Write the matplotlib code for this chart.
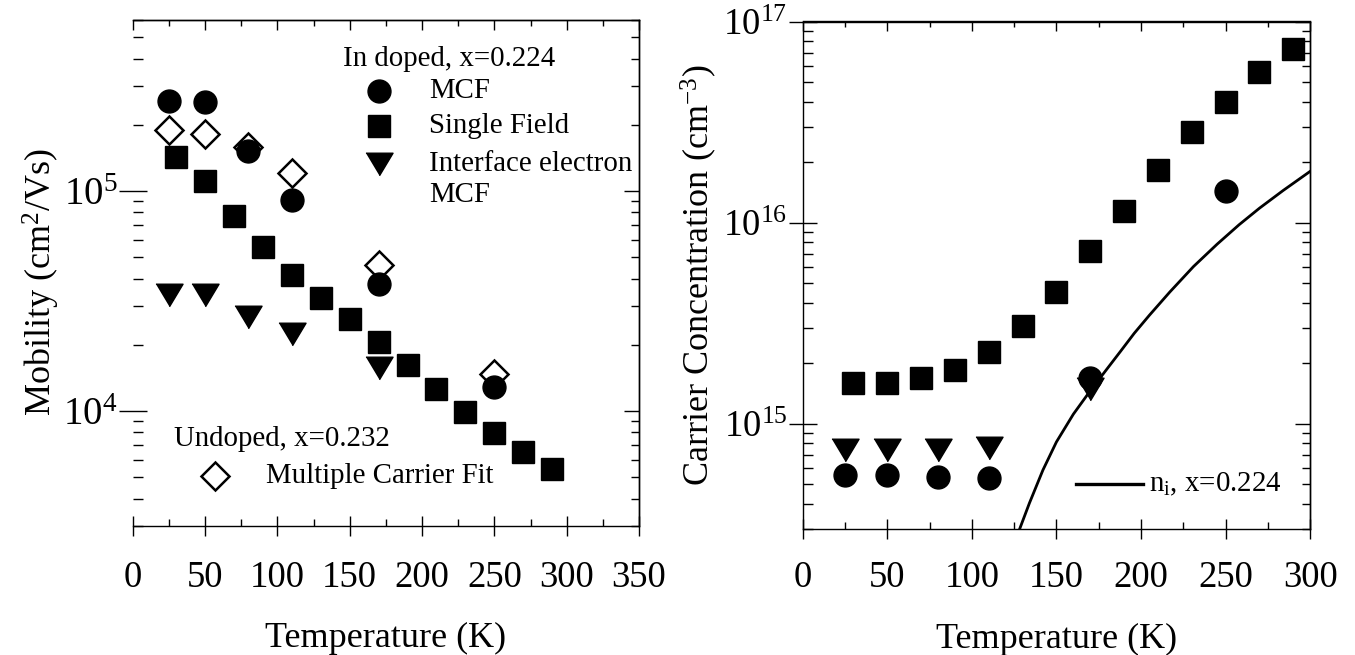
import numpy as np
import matplotlib
matplotlib.use("Agg")
import matplotlib.pyplot as plt
from matplotlib.ticker import FixedLocator, MultipleLocator, LogLocator, NullFormatter, FuncFormatter

plt.rcParams['font.family'] = ['Liberation Serif', 'DejaVu Serif']
plt.rcParams['mathtext.fontset'] = 'custom'
plt.rcParams['mathtext.rm'] = 'Liberation Serif'
plt.rcParams['mathtext.it'] = 'Liberation Serif:italic'
plt.rcParams['mathtext.bf'] = 'Liberation Serif:bold'

# ---------------- data: left panel (mobility) ----------------
T_mcf = [25, 50, 80, 110, 170, 250]
mu_mcf = [2.56e5, 2.54e5, 1.52e5, 9.1e4, 3.8e4, 1.29e4]

T_undoped = [25, 50, 80, 110, 170, 250]
mu_undoped = [1.90e5, 1.81e5, 1.58e5, 1.21e5, 4.6e4, 1.47e4]

T_single = [30, 50, 70, 90, 110, 130, 150, 170, 190, 210, 230, 250, 270, 290]
mu_single = [1.43e5, 1.11e5, 7.74e4, 5.56e4, 4.14e4, 3.25e4, 2.63e4, 2.07e4,
             1.62e4, 1.26e4, 9.9e3, 7.96e3, 6.5e3, 5.47e3]

T_iface = [25, 50, 80, 110, 170]
mu_iface = [3.36e4, 3.36e4, 2.69e4, 2.25e4, 1.57e4]

# ---------------- data: right panel (carrier concentration) ----------------
T_single_n = [30, 50, 70, 90, 110, 130, 150, 170, 190, 210, 230, 250, 270, 290]
n_single = [1.60e15, 1.60e15, 1.69e15, 1.86e15, 2.28e15, 3.07e15, 4.51e15, 7.23e15,
            1.14e16, 1.83e16, 2.81e16, 3.98e16, 5.62e16, 7.33e16]

T_mcf_n = [25, 50, 80, 110, 170, 250]
n_mcf = [5.54e14, 5.54e14, 5.46e14, 5.38e14, 1.68e15, 1.43e16]

T_iface_n = [25, 50, 80, 110, 170]
n_iface = [7.44e14, 7.44e14, 7.44e14, 7.55e14, 1.49e15]

T_ni = [125, 134, 142, 150, 160, 170, 180, 188, 196, 205, 217, 231, 245, 258, 270, 284, 300]
n_ni = [2.54e14, 4.03e14, 5.89e14, 8.13e14, 1.117e15, 1.46e15, 1.88e15, 2.30e15, 2.82e15,
        3.47e15, 4.52e15, 6.05e15, 7.82e15, 9.77e15, 1.18e16, 1.445e16, 1.80e16]

# ---------------- figure ----------------
W, H = 1355, 655
fig = plt.figure(figsize=(W / 100, H / 100), dpi=100)

def px_axes(x0, y0, x1, y1):
    return fig.add_axes([x0 / W, 1 - y1 / H, (x1 - x0) / W, (y1 - y0) / H])

ax1 = px_axes(132.7, 20, 639, 526)
ax2 = px_axes(802.7, 21.5, 1310.2, 529)

TICK_FS = 26.5
LABEL_FS = 26
LEG_FS = 20.8
MS_C = 16.5
MS_S = 15.5
MS_T = 19.5
MS_D = 14.5
tri = [(-1.2, 1.0), (1.2, 1.0), (0.0, -1.0)]
K = 'black'

def pow_fmt(v, pos):
    e = int(round(np.log10(v)))
    return r'$\mathregular{10^{%d}}$' % e

def style_axes(ax, majors_y, ytick_fs, xpad, left_spine=True):
    ax.set_yscale('log')
    for s in ax.spines.values():
        s.set_linewidth(1.0)
    if not left_spine:
        ax.spines['left'].set_visible(False)
    ax.xaxis.set_major_locator(MultipleLocator(50))
    ax.xaxis.set_minor_locator(MultipleLocator(25))
    ax.yaxis.set_major_locator(FixedLocator(majors_y))
    ax.yaxis.set_major_formatter(FuncFormatter(pow_fmt))
    ax.yaxis.set_minor_locator(LogLocator(base=10, subs=np.arange(2, 10)))
    ax.yaxis.set_minor_formatter(NullFormatter())
    ax.tick_params(axis='x', which='major', direction='inout', length=14, width=1,
                   bottom=True, top=False, labelsize=TICK_FS, pad=xpad)
    ax.tick_params(axis='x', which='minor', direction='in', length=5, width=1,
                   bottom=True, top=False)
    ax.tick_params(axis='y', which='major', direction='inout', length=20, width=1,
                   left=True, right=False, labelsize=ytick_fs, pad=1)
    ax.tick_params(axis='y', which='minor', direction='in', length=7, width=1,
                   left=True, right=False)
    top = ax.secondary_xaxis('top')
    top.xaxis.set_major_locator(MultipleLocator(50))
    top.xaxis.set_minor_locator(MultipleLocator(25))
    top.tick_params(which='major', direction='in', length=7, width=1, labeltop=False)
    top.tick_params(which='minor', direction='in', length=4, width=1)
    top.spines['top'].set_linewidth(1.0)
    right = ax.secondary_yaxis('right')
    right.yaxis.set_major_locator(FixedLocator(majors_y))
    right.yaxis.set_minor_locator(LogLocator(base=10, subs=np.arange(2, 10)))
    right.yaxis.set_minor_formatter(NullFormatter())
    right.tick_params(which='major', direction='in', length=11, width=1, labelright=False)
    right.tick_params(which='minor', direction='in', length=6, width=1)
    right.spines['right'].set_linewidth(1.0)

# ---------------- left panel ----------------
ax1.plot(T_single, mu_single, ls='none', marker='s', ms=MS_S, color=K, zorder=3)
ax1.plot(T_iface, mu_iface, ls='none', marker=tri, ms=MS_T, color=K, zorder=3)
ax1.plot(T_mcf, mu_mcf, ls='none', marker='o', ms=MS_C, color=K, zorder=4)
ax1.plot(T_undoped, mu_undoped, ls='none', marker='D', ms=MS_D, mfc='none', mec=K,
         mew=1.8, zorder=5)
ax1.set_xlim(0, 350)
ax1.set_ylim(3e3, 6e5)
style_axes(ax1, [1e4, 1e5], 28, 17.5, left_spine=False)
ax1.set_xlabel('Temperature (K)', fontsize=LABEL_FS)
ax1.set_ylabel(r'Mobility (cm$^{\mathregular{2}}$/Vs)', fontsize=LABEL_FS)
ax1.xaxis.set_label_coords(0.5, -0.19)
ax1.yaxis.set_label_coords(-0.1395, 0.482)

tA = ax1.transAxes
ax1.text(0.4144, 0.9225, 'In doped, x=0.224', transform=tA, fontsize=LEG_FS, va='center', ha='left')
ax1.plot([0.4872], [0.8597], transform=tA, marker='o', ms=MS_C, color=K, clip_on=False)
ax1.plot([0.4857], [0.7915], transform=tA, marker='s', ms=MS_S, color=K, clip_on=False)
ax1.plot([0.4857], [0.7154], transform=tA, marker=tri, ms=MS_T, color=K, clip_on=False)
ax1.text(0.5852, 0.8597, 'MCF', transform=tA, fontsize=LEG_FS, va='center', ha='left')
ax1.text(0.5852, 0.7915, 'Single Field', transform=tA, fontsize=LEG_FS, va='center', ha='left')
ax1.text(0.5852, 0.7154, 'Interface electron', transform=tA, fontsize=LEG_FS, va='center', ha='left')
ax1.text(0.5852, 0.655, 'MCF', transform=tA, fontsize=LEG_FS, va='center', ha='left')
ax1.text(0.0816, 0.171, 'Undoped, x=0.232', transform=tA, fontsize=LEG_FS, va='center', ha='left')
ax1.plot([0.1625], [0.0988], transform=tA, marker='D', ms=MS_D, mfc='none', mec=K, mew=1.8,
         clip_on=False)
ax1.text(0.2633, 0.0988, 'Multiple Carrier Fit', transform=tA, fontsize=LEG_FS, va='center', ha='left')

# ---------------- right panel ----------------
ax2.plot(T_ni, n_ni, color=K, lw=2.0, zorder=2, solid_joinstyle='round')
ax2.plot(T_single_n, n_single, ls='none', marker='s', ms=MS_S, color=K, zorder=3)
ax2.plot(T_iface_n, n_iface, ls='none', marker=tri, ms=MS_T, color=K, zorder=3)
ax2.plot(T_mcf_n, n_mcf, ls='none', marker='o', ms=MS_C, color=K, zorder=4)
ax2.set_xlim(0, 300)
ax2.set_ylim(3e14, 1e17)
style_axes(ax2, [1e15, 1e16, 1e17], 26.5, 15.5, left_spine=True)
ax2.set_xlabel('Temperature (K)', fontsize=LABEL_FS)
ax2.set_ylabel(r'Carrier Concentration (cm$^{\mathregular{-3}}$)', fontsize=LABEL_FS)
ax2.xaxis.set_label_coords(0.5, -0.185)
ax2.yaxis.set_label_coords(-0.1647, 0.5)

tB = ax2.transAxes
ax2.plot([0.5385, 0.6705], [0.0877, 0.0877], transform=tB, color=K, lw=2.4)
ax2.text(0.6824, 0.0877, r'n$_\mathregular{i}$, x=0.224', transform=tB, fontsize=LEG_FS,
         va='center', ha='left')

fig.savefig('out.png', dpi=100)
